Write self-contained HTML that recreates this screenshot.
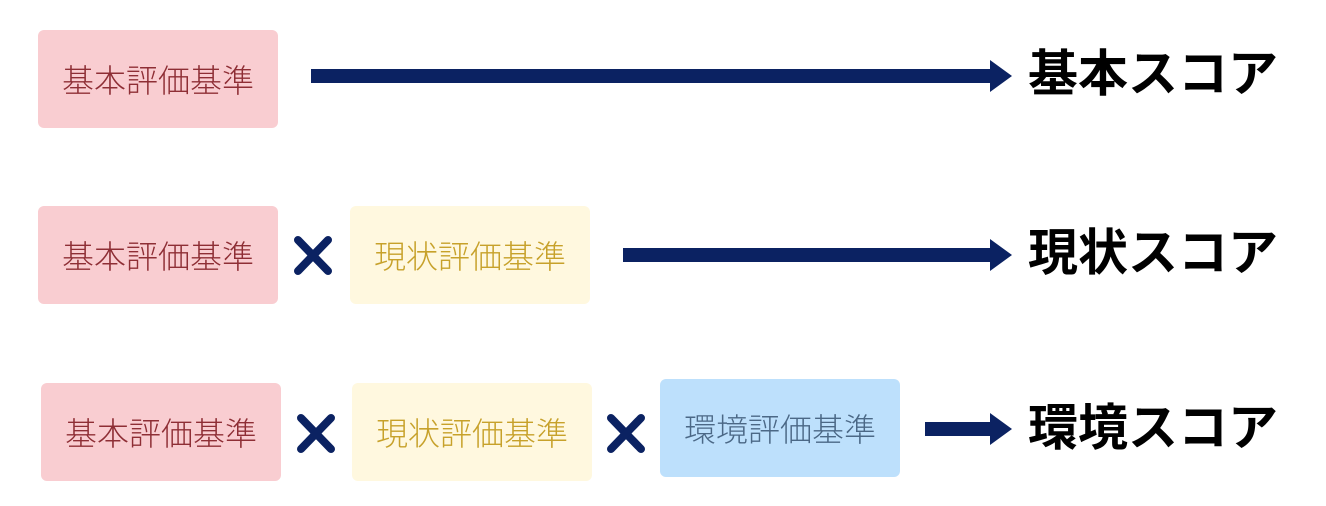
<!DOCTYPE html>
<html><head><meta charset="utf-8"><style>
body{margin:0;width:1326px;height:506px;background:#fff;position:relative;overflow:hidden;font-family:"Liberation Sans","Noto Sans CJK JP",sans-serif}
.b{position:absolute;width:240px;height:98px;border-radius:6px;display:flex;align-items:center;justify-content:center;font-size:32px;font-weight:300}
.p{background:#f9cdd1;color:#8e2e35}
.y{background:#fff8df;color:#c7a12a}
.c{background:#bde0fc;color:#4b6886}
.l{position:absolute;left:1028px;font-size:50px;font-weight:bold;color:#000;line-height:1}
</style></head><body>
<div class="b p" style="left:38px;top:30px">基本評価基準</div>
<div class="b p" style="left:38px;top:206px">基本評価基準</div>
<div class="b y" style="left:350px;top:206px">現状評価基準</div>
<div class="b p" style="left:41px;top:383px">基本評価基準</div>
<div class="b y" style="left:352px;top:383px">現状評価基準</div>
<div class="b c" style="left:660px;top:379px">環境評価基準</div>
<svg width="1326" height="506" style="position:absolute;left:0;top:0">
<g fill="#0b2262">
<rect x="311" y="69" width="682" height="14"/><polygon points="990,60 1012,76 990,92"/>
<rect x="623" y="248" width="370" height="14"/><polygon points="990,239 1012,255 990,271"/>
<rect x="925" y="422" width="68" height="14"/><polygon points="990,413 1012,429 990,445"/>
</g>
<g stroke="#0b2262" stroke-width="8" stroke-linecap="round">
<line x1="298" y1="240" x2="328" y2="271"/><line x1="328" y1="240" x2="298" y2="271"/>
<line x1="301" y1="418" x2="331" y2="449"/><line x1="331" y1="418" x2="301" y2="449"/>
<line x1="611" y1="418" x2="641" y2="449"/><line x1="641" y1="418" x2="611" y2="449"/>
</g>
</svg>
<div class="l" style="top:49px">基本スコア</div>
<div class="l" style="top:228px">現状スコア</div>
<div class="l" style="top:403px">環境スコア</div>
</body></html>
